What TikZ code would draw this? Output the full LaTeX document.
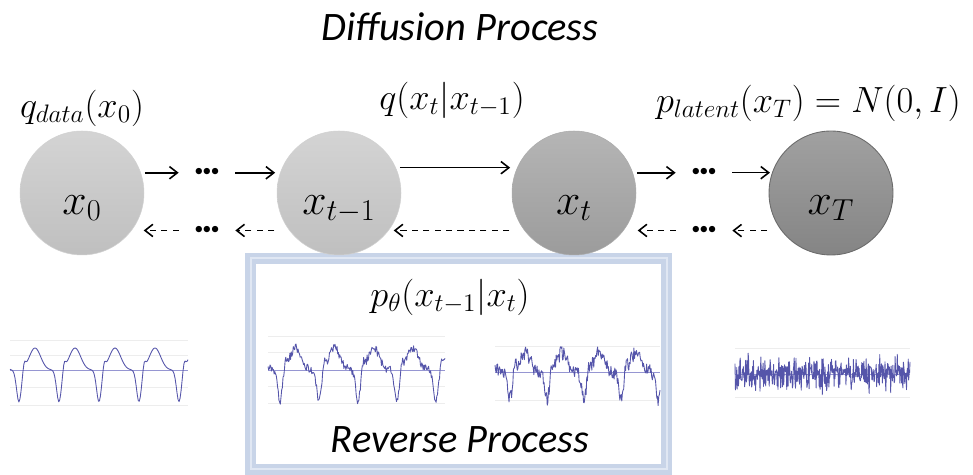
\documentclass[tikz,border=0pt]{standalone}
\usepackage{amsmath}
\usepackage{amssymb}
\usepackage{fontspec}
\usepackage{xcolor}
\usetikzlibrary{arrows.meta}
\newfontfamily\calibfont{Carlito}
\definecolor{wavecol}{RGB}{85,85,170}
\definecolor{wavemid}{RGB}{150,150,210}
\definecolor{boxblue}{RGB}{200,212,232}
\definecolor{boxpale}{RGB}{224,231,243}

\begin{document}
\begin{tikzpicture}[x=0.02cm, y=0.02cm,
    state/.style={circle, minimum size=2.48cm, inner sep=0pt, text height=24pt, text depth=0pt,
      font=\fontsize{24}{28}\selectfont},
    lightstate/.style={state, top color=black!17, bottom color=black!25, draw=black!18, line width=0.3pt},
    midstate/.style={state, top color=black!29, bottom color=black!39, draw=black!33, line width=0.3pt},
    darkstate/.style={state, top color=black!37, bottom color=black!48, draw=black!58, line width=0.5pt},
    fwd/.style={-{Straight Barb[length=4.5pt,width=7pt]}, line width=0.9pt},
    bwd/.style={fwd, dash pattern=on 3.5pt off 3pt},
    dots/.style={minimum width=1.12cm, inner sep=0pt, anchor=base, font=\fontsize{9.5}{10}\selectfont},
    lbl/.style={font=\fontsize{21}{24}\selectfont},
    heading/.style={font=\calibfont\itshape\fontsize{23}{26}\selectfont},
    wave/.style={wavecol, line width=0.5pt, line join=round},
    guide/.style={black!7, line width=0.4pt},
    axisline/.style={wavemid, line width=0.5pt},
    declare function={wph(\t,\p)=mod(\t,\p)/\p;
      wb(\t,\p)=22*exp(-min(((wph(\t,\p)-0.4)/0.2)^2,30))
        +7*exp(-min(((wph(\t,\p)-0.13)/0.045)^2,30))
        -32*exp(-min((min(wph(\t,\p),1-wph(\t,\p))/0.085)^2,30));}]
    \useasboundingbox (0,0) rectangle (973,-475);
    \pgfmathsetseed{7}

    \draw[boxblue, line width=0.22cm] (250.5,-258.5) rectangle (666.5,-469.5);
    \draw[boxpale, line width=0.04cm] (250.5,-258.5) rectangle (666.5,-469.5);

    \node[heading] (title) at (460,-27) {Diffusion Process};
    \node[lbl] (qdata) at (82,-108) {$q_{data}(x_0)$};
    \node[lbl] (qstep) at (452,-100) {$q(x_t|x_{t-1})$};
    \node[lbl, anchor=east] (platent) at (967,-103) {$p_{latent}(x_T)=N(0,I)$};

    \node[lightstate] (x0) at (82,-193) {$x_0$};
    \node[lightstate] (xprev) at (339,-193) {$x_{t-1}$};
    \node[midstate] (xt) at (574,-193) {$x_t$};
    \node[darkstate] (xT) at (831,-193) {$x_T$};

    \node[dots] (dl1) at (207,-176) {${\bullet}{\bullet}{\bullet}$};
    \node[dots] (dr1) at (704,-176) {${\bullet}{\bullet}{\bullet}$};
    \node[dots] (dl2) at (207,-234) {${\bullet}{\bullet}{\bullet}$};
    \node[dots] (dr2) at (704,-234) {${\bullet}{\bullet}{\bullet}$};

    \draw[fwd, shorten <=0.08cm] (x0.19) -- (x0.19 -| dl1.west);
    \draw[fwd, shorten >=0.1cm] (dl1.east |- xprev.161) -- (xprev.161);
    \draw[fwd, shorten <=0.08cm, shorten >=0.14cm] (xprev.24) -- (xt.156);
    \draw[fwd, shorten <=0.08cm] (xt.19) -- (xt.19 -| dr1.west);
    \draw[fwd, shorten >=0.04cm] (dr1.east |- xT.161) -- (xT.161);

    \draw[bwd, shorten >=0.24cm] (dl2.west |- x0.-37) -- (x0.-37);
    \draw[bwd, shorten <=0.3cm] (xprev.-143) -- (xprev.-143 -| dl2.east);
    \draw[bwd, shorten <=0.3cm, shorten >=0.1cm] (xt.-143) -- (xprev.-37);
    \draw[bwd, shorten >=0.28cm] (dr2.west |- xt.-37) -- (xt.-37);
    \draw[bwd, shorten <=0.28cm] (xT.-143) -- (xT.-143 -| dr2.east);

    \node[lbl] (ptheta) at (450,-297) {$p_\theta(x_{t-1}|x_t)$};
    \node[heading] (reverse) at (460,-440) {Reverse Process};

    \foreach \gy in {340,355,387,405} \draw[guide] (10,-\gy) -- (188,-\gy);
    \draw[axisline] (10,-370) -- (188,-370);
    \draw[wave] plot[domain=10:188, samples=180] (\x, {-370+wb(\x+21,40)});

    \foreach \gy in {336,352,386,403} \draw[guide] (268,-\gy) -- (445,-\gy);
    \draw[axisline] (268,-370) -- (445,-370);
    \draw[wave] plot[domain=268:445, samples=260] (\x, {-370+wb(\x+110,39)+4*rand});

    \foreach \gy in {346,400} \draw[guide] (495,-\gy) -- (660,-\gy);
    \draw[axisline] (495,-372) -- (660,-372);
    \draw[wave] plot[domain=495:660, samples=260] (\x, {-372+0.85*wb(\x-140,37)+7*rand});

    \foreach \gy in {348,397} \draw[guide] (735,-\gy) -- (910,-\gy);
    \draw[axisline] (735,-374) -- (910,-374);
    \draw[wave] plot[domain=735:910, samples=400] (\x, {-374+11*(rand+rand)});
\end{tikzpicture}
\end{document}
